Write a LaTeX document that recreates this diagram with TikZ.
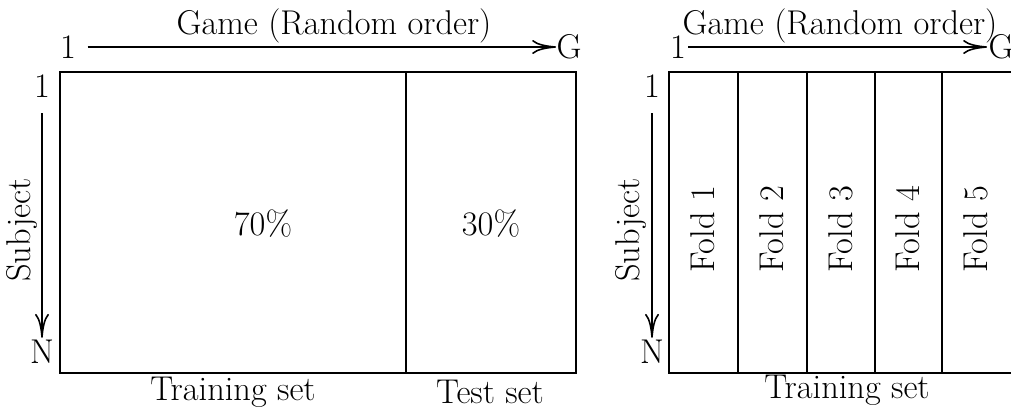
\documentclass[tikz,border=0pt]{standalone}
\usetikzlibrary{arrows.meta}
\begin{document}
\begin{tikzpicture}[x=0.5pt,y=-0.5pt,
  font=\fontsize{17.2}{20}\selectfont,
  box/.style={line width=1pt},
  arr/.style={line width=0.8pt,-{To[length=12pt,width=7pt]}},
  lbl/.style={inner sep=0pt},
  vlbl/.style={inner sep=0pt,rotate=90}]
\useasboundingbox (0,0) rectangle (1011,409);
\clip (0,0) rectangle (1011,409);
% ---------- left panel ----------
\draw[box] (60,72) rectangle (576,373);
\draw[box] (406,72) -- (406,373);
\node[lbl] (gameL) at (334,26) {Game (Random order)};
\node[lbl] (h1L) at (68,47) {1};
\node[lbl] (hGL) at (569,47) {G};
\draw[arr,shorten <=5.7pt] (h1L.east) -- (hGL.west);
\node[lbl] (v1L) at (42,86) {1};
\node[lbl] (vNL) at (42,352) {N};
\draw[arr,shorten <=7.7pt,shorten >=1pt] (v1L.south) -- (vNL.north);
\node[vlbl] (subjL) at (22,230) {Subject};
\node[lbl] (p70) at (263,224) {70\%};
\node[lbl] (p30) at (491,224) {30\%};
\node[lbl] (trainL) at (233,392) {Training set};
\node[lbl] (test) at (490,392) {Test set};
% ---------- right panel ----------
\draw[box] (669,72) rectangle (1014,373);
\foreach \x in {738,807,875,942} \draw[box] (\x,72) -- (\x,373);
\node[lbl] (gameR) at (840,26) {Game (Random order)};
\node[lbl] (h1R) at (678,47) {1};
\node[lbl] (hGR) at (1001,47) {G};
\draw[arr,shorten <=1pt,shorten >=0.5pt] (h1R.east) -- (hGR.west);
\node[lbl] (v1R) at (652,86) {1};
\node[lbl] (vNR) at (652,352) {N};
\draw[arr,shorten <=7.7pt,shorten >=1pt] (v1R.south) -- (vNR.north);
\node[vlbl] (subjR) at (631,230) {Subject};
\node[vlbl] (f1) at (703,229) {Fold 1};
\node[vlbl] (f2) at (772,229) {Fold 2};
\node[vlbl] (f3) at (841,229) {Fold 3};
\node[vlbl] (f4) at (908,229) {Fold 4};
\node[vlbl] (f5) at (976,229) {Fold 5};
\node[lbl] (trainR) at (847,390) {Training set};
\end{tikzpicture}
\end{document}
